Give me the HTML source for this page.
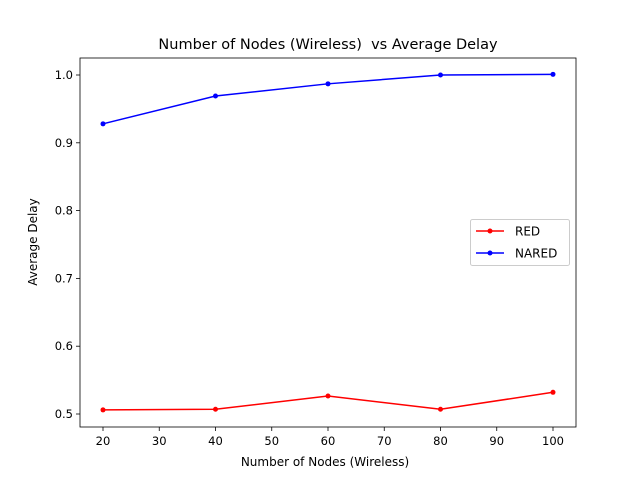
<!DOCTYPE html>
<html><head><meta charset="utf-8"><style>
body{margin:0;background:#fff;}
svg{display:block;font-family:"DejaVu Sans","Liberation Sans",sans-serif;}
</style></head><body>
<svg id="chart" width="640" height="480"></svg>
<script>
const categories=[20,40,60,80,100];
const redValues=[0.506,0.507,0.5265,0.507,0.532];
const naredValues=[0.928,0.969,0.987,1.0,1.001];
const xTicks=[20,30,40,50,60,70,80,90,100];
const yTicks=[0.5,0.6,0.7,0.8,0.9,1.0];
const NS="http://www.w3.org/2000/svg";
const svg=document.getElementById('chart');
const L=80,R=576,T=58,B=427;
const xs=v=>103+(v-20)*(553-103)/80;
const ys=v=>414-(v-0.5)*(414-75)/0.5;
function mk(t,a,txt){const e=document.createElementNS(NS,t);for(const k in a)e.setAttribute(k,a[k]);if(txt!==undefined)e.textContent=txt;svg.appendChild(e);return e;}
let e;
e=mk('text',{x:328,y:49,'text-anchor':'middle','font-size':14.5,fill:'#000',style:'white-space:pre'},'Number of Nodes (Wireless)  vs Average Delay');


xTicks.forEach(v=>{const x=xs(v);
e=mk('line',{x1:x,x2:x,y1:B,y2:B+4,stroke:'#000','stroke-width':0.8});


e=mk('text',{x:x,y:B+18,'text-anchor':'middle','font-size':11.5},String(v));

});
yTicks.forEach(v=>{const y=ys(v);
e=mk('line',{x1:L-4,x2:L,y1:y,y2:y,stroke:'#000','stroke-width':0.8});


e=mk('text',{x:L-7,y:y+4,'text-anchor':'end','font-size':11.5},v.toFixed(1));

});
e=mk('text',{x:325,y:466,'text-anchor':'middle','font-size':12},'Number of Nodes (Wireless)');


e=mk('text',{x:0,y:0,'text-anchor':'middle','font-size':12,transform:'translate(37,242) rotate(-90)'},'Average Delay');


function series(vals,color,name){
const pts=categories.map((c,i)=>xs(c)+','+ys(vals[i])).join(' ');
e=mk('polyline',{points:pts,fill:'none',stroke:color,'stroke-width':1.5});


categories.forEach((c,i)=>{e=mk('circle',{cx:xs(c),cy:ys(vals[i]),r:2.5,fill:color});

});}
series(redValues,'#ff0000','red');
series(naredValues,'#0000ff','nared');
e=mk('rect',{x:L,y:T,width:R-L,height:B-T,fill:'none',stroke:'#000','stroke-width':0.8});


e=mk('rect',{x:470.5,y:219.5,width:99,height:46,rx:2,fill:'#fff',stroke:'#ccc','stroke-width':1});


[['RED','#ff0000',231],['NARED','#0000ff',253]].forEach(([n,c,y])=>{
e=mk('line',{x1:476,x2:504,y1:y,y2:y,stroke:c,'stroke-width':1.5});


e=mk('circle',{cx:490,cy:y,r:2.5,fill:c});


e=mk('text',{x:515,y:y+4.5,'font-size':12},n);

});
</script>
</body></html>
